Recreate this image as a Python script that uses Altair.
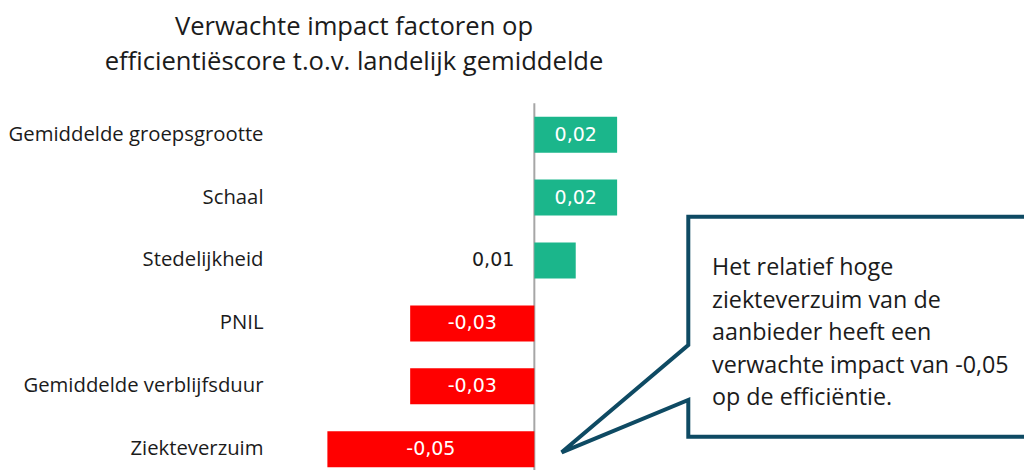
import altair as alt
import pandas as pd

categories = ["Gemiddelde groepsgrootte", "Schaal", "Stedelijkheid", "PNIL",
              "Gemiddelde verblijfsduur", "Ziekteverzuim"]
values = [0.02, 0.02, 0.01, -0.03, -0.03, -0.05]
labels = ["0,02", "0,02", "0,01", "-0,03", "-0,03", "-0,05"]

title_lines = ["Verwachte impact factoren op",
               "efficientiëscore t.o.v. landelijk gemiddelde"]
callout_lines = ["Het relatief hoge", "ziekteverzuim van de",
                 "aanbieder heeft een", "verwachte impact van -0,05",
                 "op de efficiëntie."]

# callout outline vertices (page coordinates)
callout_px = [1045, 688.3, 688.3, 561.7, 688.3, 688.3, 1045]
callout_py = [216.7, 216.7, 345, 452.3, 400, 436.7, 436.7]

GREEN = "#1BB68B"
RED = "#FF0000"
NAVY = "#0E4A63"
TXT = "#1b1b1b"
FONT = "Open Sans"

PL, PT = 278, 108.7
W, H = 738, 350.5
PX_PER_UNIT = 4139
XMIN = -0.06
XMAX = XMIN + W / PX_PER_UNIT

df = pd.DataFrame({"category": categories, "value": values, "label": labels})
one = pd.DataFrame({"zero": [0]})
callout_df = pd.DataFrame({"px": callout_px, "py": callout_py,
                           "i": list(range(len(callout_px)))})

xscale = alt.Scale(domain=[XMIN, XMAX], nice=False, zero=False)
yenc = alt.Y("category:N", sort=categories,
             scale=alt.Scale(paddingInner=0.4277, paddingOuter=0),
             axis=alt.Axis(title=None, ticks=False, domain=False,
                           labelPadding=23, labelFontSize=20.3, labelFont=FONT,
                           labelColor=TXT, labelLimit=400, grid=False))

base = alt.Chart(df)

bars = base.mark_bar().encode(
    x=alt.X("value:Q", scale=xscale, axis=None),
    y=yenc,
    color=alt.condition(alt.datum.value > 0, alt.value(GREEN), alt.value(RED)),
)

inner = base.transform_filter("abs(datum.value) >= 0.015").transform_calculate(
    mid="datum.value / 2").mark_text(
    color="white", fontSize=19, font="DejaVu Sans").encode(
    x=alt.X("mid:Q", scale=xscale, axis=None),
    y=alt.Y("category:N", sort=categories),
    text="label:N",
)

outer = base.transform_filter("abs(datum.value) < 0.015").mark_text(
    color=TXT, fontSize=19, font="DejaVu Sans", align="right", dx=-20).encode(
    x=alt.datum(0, scale=xscale),
    y=alt.Y("category:N", sort=categories),
    text="label:N",
)

zero_rule = alt.Chart(one).mark_rule(color="#A6A6A6", strokeWidth=2).encode(
    x=alt.X("zero:Q", scale=xscale, axis=None),
    y=alt.value(-13.4), y2=alt.value(H + 10),
)

bar_layer = alt.layer(zero_rule, bars, inner, outer)

callout = alt.Chart(callout_df).mark_line(
    color=NAVY, strokeWidth=4, strokeJoin="miter").encode(
    x=alt.X("px:Q", scale=alt.Scale(domain=[PL + 8, PL + 8 + W], nice=False, zero=False), axis=None),
    y=alt.Y("py:Q", scale=alt.Scale(domain=[PT + 8, PT + 8 + H], nice=False, zero=False, reverse=True), axis=None),
    order="i:Q",
)

title = alt.Chart(one).mark_text(
    text=title_lines, align="center", baseline="alphabetic", fontSize=25.6,
    lineHeight=35, font=FONT, color=TXT).encode(
    x=alt.value(354 - (PL + 8)), y=alt.value(35 - (PT + 8)))

ctext = alt.Chart(one).mark_text(
    text=callout_lines, align="left", baseline="alphabetic", fontSize=23.3,
    lineHeight=32.5, font=FONT, color=TXT).encode(
    x=alt.value(712 - (PL + 8)), y=alt.value(275 - (PT + 8)))

chart = alt.layer(bar_layer, callout, title, ctext).resolve_scale(
    x="independent", y="independent").properties(
    width=W, height=H,
    autosize=alt.AutoSizeParams(type="none"),
    padding={"left": PL, "top": PT, "right": 0, "bottom": 2.8},
).configure_view(stroke=None)

chart.save("out.html", embed_options={"renderer": "svg", "actions": False})
